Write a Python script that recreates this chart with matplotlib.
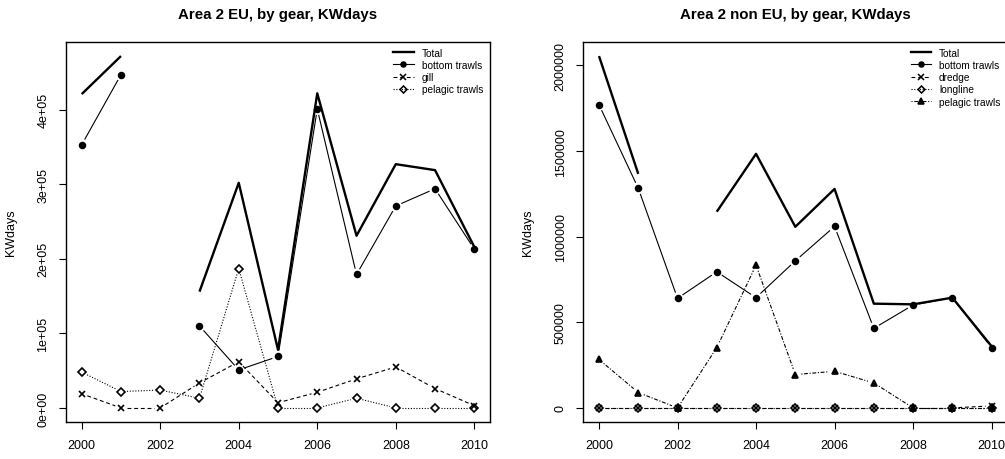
import numpy as np
import matplotlib.pyplot as plt
from matplotlib.lines import Line2D
from matplotlib.ticker import FuncFormatter, MultipleLocator

plt.rcParams['font.family'] = ['Liberation Sans', 'DejaVu Sans']

nan = np.nan
years = np.arange(2000, 2011)

# Area 2 EU
eu_total = [4.21e5, 4.72e5, nan, 1.56e5, 3.02e5, 0.78e5, 4.22e5, 2.31e5, 3.27e5, 3.19e5, 2.16e5]
eu_bottom = [3.53e5, 4.47e5, nan, 1.10e5, 0.51e5, 0.69e5, 4.01e5, 1.79e5, 2.71e5, 2.94e5, 2.13e5]
eu_gill = [0.19e5, 0, 0, 0.335e5, 0.62e5, 0.07e5, 0.21e5, 0.39e5, 0.55e5, 0.26e5, 0.03e5]
eu_pelagic = [0.48e5, 0.22e5, 0.24e5, 0.13e5, 1.87e5, 0, 0, 0.13e5, 0, 0, 0]

# Area 2 non EU
neu_total = [2.055e6, 1.367e6, nan, 1.146e6, 1.484e6, 1.058e6, 1.279e6, 0.609e6, 0.605e6, 0.644e6, 0.36e6]
neu_bottom = [1.771e6, 1.283e6, 0.640e6, 0.795e6, 0.644e6, 0.859e6, 1.060e6, 0.465e6, 0.601e6, 0.644e6, 0.352e6]
neu_dredge = [0, 0, 0, 0, 0, 0, 0, 0, 0, 0, 0.012e6]
neu_longline = [0, 0, 0, 0, 0, 0, 0, 0, 0, 0, 0]
neu_pelagic = [0.283e6, 0.090e6, 0, 0.352e6, 0.834e6, 0.195e6, 0.214e6, 0.146e6, 0, 0, 0]

# estilo por posicion del arte: marcador, tipo de linea, tamano
estilos = [
    dict(marker='o', ls='-', ms=4.2, mfc='black'),
    dict(marker='x', ls=(0, (3.5, 2.5)), ms=4.6, mfc='black'),
    dict(marker='D', ls=(0, (1, 1.5)), ms=4.2, mfc='none'),
    dict(marker='^', ls=(0, (1, 1.5, 3.5, 1.5)), ms=5.0, mfc='black'),
]

GAP = 6  # px
LW = 0.8


def tramos(ax, x, y, ls):
    # lineas tipo "b": segmentos recortados alrededor de cada punto
    pts = ax.transData.transform(np.c_[x, y])
    inv = ax.transData.inverted()
    for i in range(len(pts) - 1):
        p, q = pts[i], pts[i + 1]
        if np.isnan(p).any() or np.isnan(q).any():
            continue
        d = q - p
        L = np.hypot(*d)
        if L <= 2 * GAP:
            continue
        u = d / L
        a = inv.transform(np.vstack([p + GAP * u, q - GAP * u]))
        ax.plot(a[:, 0], a[:, 1], color='black', lw=LW, ls=ls,
                solid_capstyle='butt', dash_capstyle='butt')


def panel(ax, titulo, total, series, nombres, fmt, paso):
    todos = np.concatenate([np.array(s, float) for s in [total] + series])
    lo, hi = np.nanmin(todos), np.nanmax(todos)
    r = hi - lo
    ax.set_xlim(1999.6, 2010.4)
    ax.set_ylim(lo - 0.04 * r, hi + 0.04 * r)

    ax.plot(years, total, color='black', lw=1.7, solid_capstyle='butt')
    handles = [Line2D([], [], color='black', lw=1.7)]
    for s, est in zip(series, estilos):
        s = np.array(s, float)
        tramos(ax, years, s, est['ls'])
        ok = ~np.isnan(s)
        ax.plot(years[ok], s[ok], ls='none', marker=est['marker'],
                ms=est['ms'], mfc=est['mfc'], mec='black', mew=1.2)
        handles.append(Line2D([], [], color='black', lw=LW, ls=est['ls'],
                              marker=est['marker'], ms=est['ms'] * 0.85,
                              mfc=est['mfc'], mec='black', mew=1.1))

    ax.legend(handles, ['Total'] + nombres, loc='upper left',
              bbox_to_anchor=(0.772, 0.985), frameon=False, fontsize=7.3,
              handlelength=2.0, handletextpad=0.8, labelspacing=0.22,
              borderpad=0, borderaxespad=0, numpoints=1)

    ax.set_xticks(range(2000, 2011, 2))
    ax.yaxis.set_major_locator(MultipleLocator(paso))
    ax.yaxis.set_major_formatter(FuncFormatter(fmt))
    ax.tick_params(direction='out', length=5, width=0.8, labelsize=9, pad=7)
    for lab in ax.get_yticklabels():
        lab.set_rotation(90)
        lab.set_va('center')
    for sp in ax.spines.values():
        sp.set_linewidth(1.0)
    ax.set_ylabel('KWdays', fontsize=9)
    ax.yaxis.set_label_coords(-0.116, 0.5)
    ax.text(0.5, 1.074, titulo, transform=ax.transAxes, ha='center',
            va='center', fontsize=10.8, fontweight='bold')


fig = plt.figure(figsize=(10.05, 4.6), dpi=100)
ax1 = fig.add_axes([66 / 1005, 37 / 460, 424 / 1005, 380 / 460])
ax2 = fig.add_axes([583.3 / 1005, 37 / 460, 424 / 1005, 380 / 460])

panel(ax1, 'Area 2 EU, by gear, KWdays', eu_total,
      [eu_bottom, eu_gill, eu_pelagic],
      ['bottom trawls', 'gill', 'pelagic trawls'],
      lambda v, p: f'{v:.0e}', 1e5)
panel(ax2, 'Area 2 non EU, by gear, KWdays', neu_total,
      [neu_bottom, neu_dredge, neu_longline, neu_pelagic],
      ['bottom trawls', 'dredge', 'longline', 'pelagic trawls'],
      lambda v, p: f'{v:.0f}', 5e5)

fig.savefig('out.png', dpi=100)
